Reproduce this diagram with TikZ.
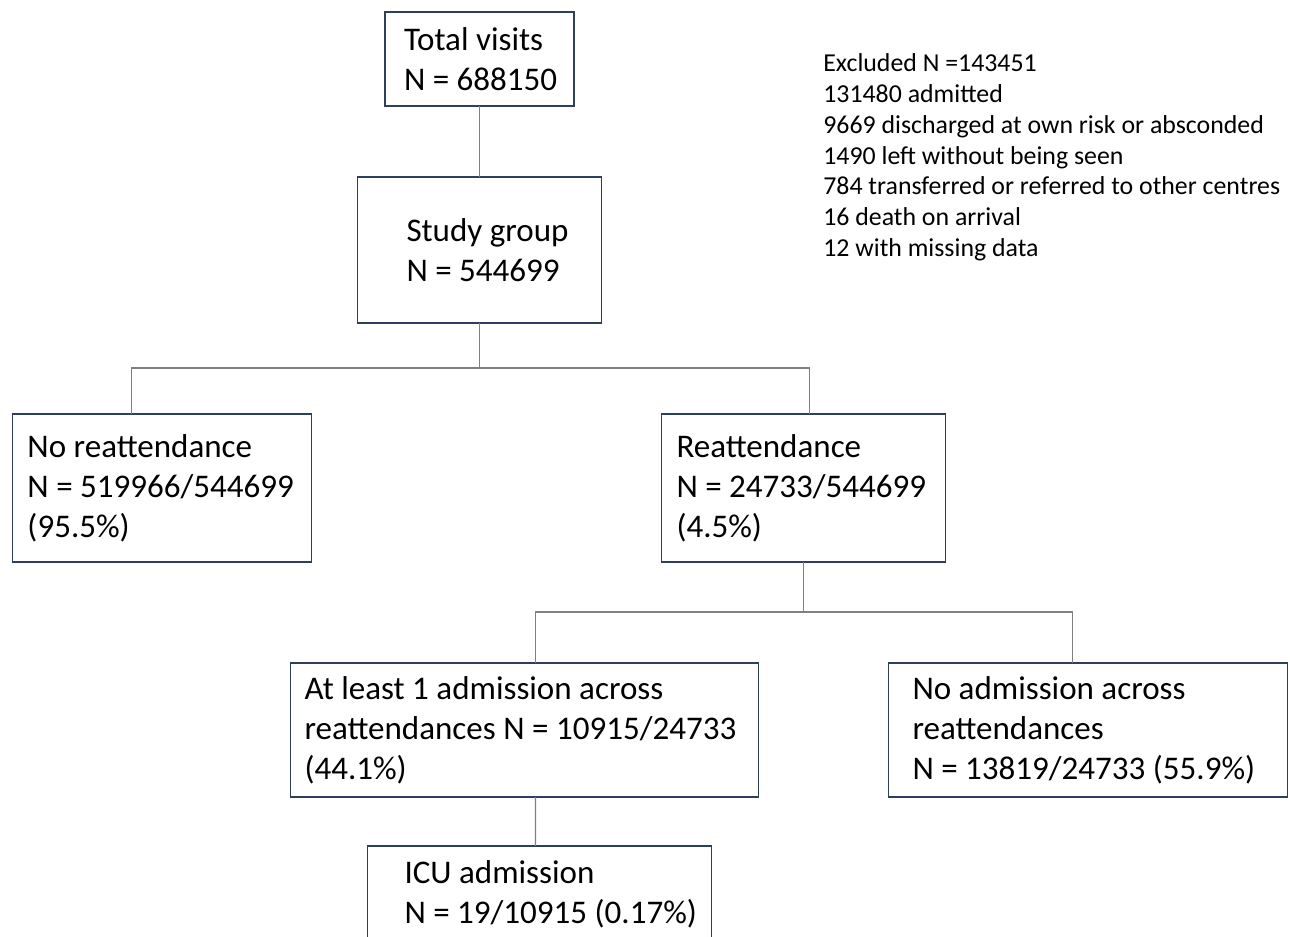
\documentclass[tikz,border=0pt]{standalone}
\usepackage{fontspec}
\setmainfont{Carlito}
\usetikzlibrary{positioning}
\definecolor{boxline}{RGB}{47,62,92}
\definecolor{linkgray}{RGB}{128,128,128}
\tikzset{
  box/.style={draw=boxline, line width=1.1pt, align=flush left, outer sep=0pt, inner ysep=0pt,
    font=\fontsize{18.8}{22.8}\selectfont, execute at begin node={\spaceskip=\fontdimen2\font\relax}},
  link/.style={draw=linkgray, line width=0.6pt},
}

\begin{document}
\begin{tikzpicture}
      \useasboundingbox (0,0) rectangle (25.8,-18.74);
      \clip (0,0) rectangle (25.8,-18.74);
      \node[box, text width=3.02cm, inner xsep=0.38cm, minimum height=1.88cm] (total) at (9.59,-1.18) {Total~visits\\N~=~688150};
      \node[box, text width=2.92cm, inner xsep=0.98cm, minimum height=2.92cm, below=1.42cm of total] (study) {Study~group\\N~=~544699};
      \node[box, text width=5.38cm, inner xsep=0.30cm, minimum height=2.96cm, below=1.82cm of study, xshift=-6.35cm] (noreat) {No~reattendance\\N~=~519966/544699\\(95.5\%)};
      \node[box, text width=5.08cm, inner xsep=0.30cm, minimum height=2.96cm, below=1.82cm of study, xshift=6.48cm] (reat) {Reattendance\\N~=~24733/544699\\(4.5\%)};
      \node[box, text width=8.80cm, inner xsep=0.28cm, minimum height=2.68cm, below=2.02cm of reat, xshift=-5.58cm] (atleast) {At~least~1~admission~across\\reattendances~N~=~10915/24733\\(44.1\%)};
      \node[box, text width=7.02cm, inner xsep=0.48cm, minimum height=2.68cm, below=2.02cm of reat, xshift=5.69cm] (noadm) {No~admission~across\\reattendances\\N~=~13819/24733~(55.9\%)};
      \node[box, text width=5.40cm, inner xsep=0.74cm, minimum height=1.94cm, below=0.98cm of atleast, xshift=0.30cm] (icu) {ICU~admission\\N~=~19/10915~(0.17\%)};
      \node[font=\fontsize{14.7}{17.6}\selectfont, align=left, anchor=north west, inner sep=0pt] (excl) at (16.46,-1.06) {Excluded N =143451\\131480 admitted\\9669 discharged at own risk or absconded\\1490 left without being seen\\784 transferred or referred to other centres\\16 death on arrival\\12 with missing data};
      \coordinate[below=0.9cm of study] (split1);
      \coordinate[below=1cm of reat] (split2);
      \draw[link] (total) -- (study);
      \draw[link] (study) -- (split1);
      \draw[link] ([xshift=-0.61cm]noreat.north) |- (split1) -| ([xshift=0.12cm]reat.north);
      \draw[link] (reat) -- (split2);
      \draw[link] ([xshift=0.22cm]atleast.north) |- (split2) -| ([xshift=-0.31cm]noadm.north);
      \draw[link] ([xshift=0.22cm]atleast.south) -- ([xshift=-0.08cm]icu.north);
    \end{tikzpicture}
\end{document}
